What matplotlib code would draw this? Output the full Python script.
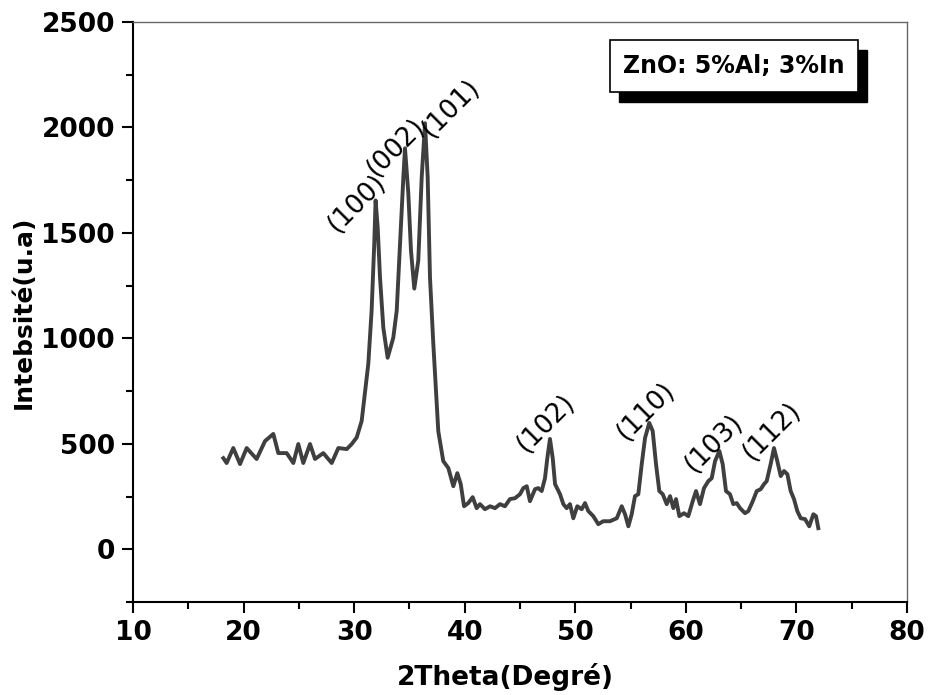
import matplotlib
matplotlib.use("Agg")
import matplotlib.pyplot as plt
from matplotlib.patches import Rectangle
from matplotlib.ticker import MultipleLocator

plt.rcParams['font.family'] = ['DejaVu Sans']

two_theta = [18.17, 18.47, 19.07, 19.68, 20.28, 21.18, 21.94, 22.69, 23.14, 23.90,
             24.50, 24.95, 25.40, 26.01, 26.46, 27.21, 27.97, 28.57, 29.33, 29.78,
             30.23, 30.68, 31.28, 31.58, 31.82, 31.94, 32.13, 32.34, 32.64, 33.03,
             33.54, 33.85, 34.15, 34.45, 34.60, 34.90, 35.14, 35.44, 35.80, 36.11,
             36.41, 36.65, 36.86, 37.16, 37.47, 37.61, 38.06, 38.52, 38.97, 39.33,
             39.64, 39.94, 40.32, 40.72, 41.08, 41.38, 41.83, 42.29, 42.74, 43.19,
             43.64, 44.09, 44.54, 45.00, 45.30, 45.61, 45.90, 46.36, 46.65, 46.96,
             47.26, 47.47, 47.71, 47.96, 48.17, 48.62, 48.92, 49.22, 49.52, 49.82,
             50.18, 50.58, 50.88, 51.18, 51.63, 52.08, 52.53, 53.14, 53.75, 54.20,
             54.50, 54.80, 55.10, 55.40, 55.70, 56.01, 56.31, 56.69, 57.00, 57.30,
             57.60, 57.91, 58.27, 58.57, 58.87, 59.11, 59.41, 59.83, 60.22, 60.62,
             60.92, 61.28, 61.64, 62.03, 62.34, 62.64, 63.03, 63.33, 63.63, 63.99,
             64.29, 64.60, 64.90, 65.35, 65.65, 66.05, 66.41, 66.77, 67.07, 67.31,
             67.67, 67.97, 68.27, 68.58, 68.88, 69.18, 69.48, 69.78, 70.08, 70.39,
             70.78, 71.16, 71.53, 71.77, 71.98]
intensity = [432, 409, 480, 404, 480, 428, 513, 547, 456, 456,
             409, 499, 409, 499, 428, 456, 409, 480, 475, 499,
             530, 608, 879, 1131, 1450, 1654, 1526, 1288, 1050, 908,
             1003, 1131, 1450, 1764, 1901, 1687, 1416, 1236, 1369, 1764,
             2020, 1764, 1288, 974, 689, 560, 418, 385, 299, 361,
             309, 204, 219, 247, 195, 214, 190, 204, 195, 214,
             204, 238, 242, 261, 290, 299, 228, 285, 290, 276,
             337, 432, 523, 432, 309, 261, 214, 195, 214, 147,
             204, 190, 219, 181, 157, 119, 133, 133, 147, 204,
             166, 109, 166, 252, 261, 404, 528, 599, 561, 404,
             276, 261, 214, 252, 195, 238, 157, 171, 157, 228,
             276, 214, 290, 323, 337, 418, 466, 404, 276, 261,
             214, 219, 195, 171, 181, 228, 276, 285, 309, 323,
             404, 480, 418, 347, 371, 356, 276, 238, 181, 147,
             143, 109, 166, 157, 100]

hkl_labels = ["(100)", "(002)", "(101)", "(102)", "(110)", "(103)", "(112)"]
hkl_x = [30.3, 33.8, 38.8, 47.35, 56.4, 62.55, 67.8]
hkl_y = [1640, 1905, 2090, 599, 656, 504, 561]

x_ticks = [10, 20, 30, 40, 50, 60, 70, 80]
y_ticks = [0, 500, 1000, 1500, 2000, 2500]

fig = plt.figure(figsize=(9.3, 6.95), dpi=100)
ax = fig.add_axes([133/930, 1-602/695, (907-133)/930, (602-22)/695])

ax.plot(two_theta, intensity, color='#3f3f3f', lw=2.8, solid_joinstyle='round')

ax.set_xlim(10, 80)
ax.set_ylim(-250, 2500)
ax.set_xticks(x_ticks)
ax.set_yticks(y_ticks)
ax.xaxis.set_minor_locator(MultipleLocator(5))
ax.yaxis.set_minor_locator(MultipleLocator(250))
ax.tick_params(which='major', direction='out', length=8, width=1.5, labelsize=19, pad=5)
ax.tick_params(which='minor', direction='out', length=5, width=1.5)
for lab in ax.get_xticklabels() + ax.get_yticklabels():
    lab.set_fontweight('bold')

for s in ['left', 'bottom']:
    ax.spines[s].set_linewidth(1.5)
    ax.spines[s].set_color('black')
for s in ['top', 'right']:
    ax.spines[s].set_linewidth(1.0)
    ax.spines[s].set_color('#666666')

ax.set_xlabel('2Theta(Degré)', fontsize=19, fontweight='bold')
ax.xaxis.set_label_coords(0.481, -0.105)
ax.set_ylabel('Intebsité(u.a)', fontsize=18, fontweight='bold', labelpad=4)

for t, x, y in zip(hkl_labels, hkl_x, hkl_y):
    ax.text(x, y, t, rotation=45, ha='center', va='center', fontsize=19,
            rotation_mode='anchor')

# annotation box with shadow
bx0, by0 = 610/930, 1-92/695
bw, bh = (858-610)/930, (92-40)/695
dx, dy = 9/930, -10/695
fig.patches.append(Rectangle((bx0+dx, by0+dy), bw, bh, transform=fig.transFigure,
                             facecolor='black', edgecolor='black', zorder=5))
fig.patches.append(Rectangle((bx0, by0), bw, bh, transform=fig.transFigure,
                             facecolor='white', edgecolor='black', lw=1.2, zorder=6))
fig.text(bx0+bw/2, by0+bh/2, 'ZnO: 5%Al; 3%In', ha='center', va='center',
         fontsize=17, fontweight='bold', zorder=7)

fig.savefig('out.png', dpi=100)
